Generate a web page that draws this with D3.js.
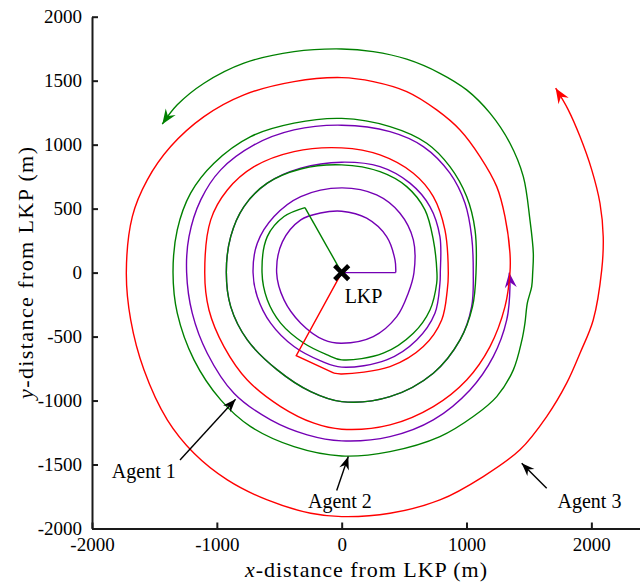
<!DOCTYPE html>
<html><head><meta charset="utf-8">
<script src="https://cdn.jsdelivr.net/npm/d3@7"></script>
<style>
body{margin:0;background:#fff}
svg{display:block}
svg text{font-family:'Liberation Serif','Times New Roman',serif !important;fill:#000}
</style>
</head><body><svg id="chart" width="640" height="588"></svg>
<script>
// ---- data (metres from LKP) ----
const xTicks = [-2000, -1000, 0, 1000, 2000];
const yTicks = [-2000, -1500, -1000, -500, 0, 500, 1000, 1500, 2000];
const xDomain = [-2000, 2400];
const yDomain = [-2000, 2000];

const agentNames = ["Agent 1", "Agent 2", "Agent 3"];

const agent1Leg = [[0,0],[433,0]];
const agent1Path = [[433,0],[427,99],[360,281],[200,425],[0,480],[-170,466],[-328,412],[-475,240],[-521,0],[-462,-213],[-328,-395],[-142,-526],[0,-552],[253,-500],[441,-344],[533,-161],[579,0],[574,256],[467,464],[280,607],[0,662],[-328,594],[-542,438],[-676,230],[-710,0],[-676,-188],[-569,-395],[-382,-578],[-168,-690],[0,-739],[360,-682],[601,-526],[747,-317],[787,-83],[790,0],[787,281],[707,516],[547,699],[307,828],[0,863],[-328,816],[-596,699],[-783,516],[-889,281],[-924,0],[-889,-266],[-756,-526],[-516,-760],[-248,-930],[0,-1008],[387,-969],[734,-786],[948,-526],[1041,-266],[1054,0],[1041,281],[988,542],[867,777],[654,985],[387,1102],[0,1152],[-382,1115],[-702,998],[-969,803],[-1129,568],[-1223,281],[-1242,0],[-1197,-317],[-1077,-630],[-863,-943],[-569,-1151],[-276,-1268],[0,-1315],[387,-1282],[734,-1151],[1028,-917],[1214,-657],[1322,-370],[1348,-109],[1342,0]];

const agent2Leg = [[0,0],[-294,508]];
const agent2Path = [[-294,508],[-462,438],[-596,281],[-638,0],[-596,-213],[-489,-395],[-302,-552],[-115,-643],[0,-682],[333,-630],[574,-474],[707,-292],[761,-83],[763,0],[734,256],[667,490],[521,672],[307,789],[0,842],[-328,810],[-596,699],[-783,516],[-889,281],[-924,0],[-889,-266],[-756,-526],[-516,-760],[-248,-930],[0,-1008],[387,-969],[734,-786],[948,-526],[1048,-266],[1076,0],[1068,334],[1001,594],[867,828],[681,1011],[387,1141],[0,1205],[-382,1168],[-729,1063],[-1023,855],[-1210,621],[-1317,334],[-1351,0],[-1317,-317],[-1183,-682],[-969,-995],[-729,-1204],[-382,-1360],[0,-1433],[387,-1399],[787,-1282],[1054,-1125],[1242,-969],[1375,-760],[1444,-526],[1468,-395],[1487,-239],[1522,-109],[1530,0],[1535,152],[1508,412],[1455,750],[1348,1011],[1188,1246],[1001,1428],[787,1558],[521,1668],[253,1727],[0,1748],[-382,1727],[-783,1637],[-1103,1480],[-1317,1311],[-1437,1160]];

const agent3Leg = [[0,0],[-364,-649],[-62,-786]];
const agent3Path = [[-62,-786],[0,-792],[387,-735],[654,-578],[801,-370],[846,-135],[854,0],[827,334],[734,594],[574,777],[307,920],[0,975],[-382,946],[-702,828],[-916,646],[-1049,412],[-1097,0],[-1063,-292],[-943,-578],[-756,-839],[-489,-1047],[-222,-1177],[0,-1224],[387,-1190],[734,-1047],[1001,-839],[1188,-578],[1308,-266],[1348,0],[1348,152],[1308,438],[1242,672],[1108,907],[948,1115],[761,1272],[521,1415],[253,1493],[0,1524],[-382,1493],[-783,1389],[-1103,1219],[-1370,985],[-1557,725],[-1677,438],[-1725,0],[-1690,-370],[-1584,-760],[-1397,-1151],[-1183,-1412],[-916,-1620],[-596,-1777],[-248,-1881],[0,-1907],[387,-1881],[787,-1777],[1134,-1594],[1428,-1385],[1642,-1125],[1802,-864],[1909,-630],[2015,-370],[2083,21],[2095,281],[2069,542],[2003,803],[1909,1063],[1815,1272],[1714,1441]];

// annotation arrows: [tail, tip]
const agent1Pointer = [[-1295,-1464],[-850,-990]];
const agent2Pointer = [[-40,-1703],[53,-1438]];
const agent3Pointer = [[1642,-1685],[1442,-1490]];
// label anchor points
const agentLabelPos = [[-1585,-1607],[-14,-1841],[1985,-1841]];
const lkpLabelPos = [175,-234];
const lkpPoint = [0,0];

// ---- drawing ----
const SERIF = "'Liberation Serif','Times New Roman',serif";
const svg = d3.select("#chart");
const x = d3.scaleLinear().domain(xDomain).range([92, 641.3]);
const y = d3.scaleLinear().domain(yDomain).range([528.5, 16.7]);

const colors = ["#7400b4", "#008000", "#ff0000"];

const defs = svg.append("defs");
function addMarker(id, color, len, hw, notch) {
  defs.append("marker")
    .attr("id", id)
    .attr("markerUnits", "userSpaceOnUse")
    .attr("viewBox", "-20 -10 22 20")
    .attr("markerWidth", 22).attr("markerHeight", 20)
    .attr("refX", 0).attr("refY", 0)
    .attr("orient", "auto")
    .append("path")
    .attr("d", `M0,0 L${-len},${-hw} L${-notch},0 L${-len},${hw} Z`)
    .attr("fill", color).attr("stroke", "none");
}
addMarker("ah0", colors[0], 15, 6, 10);
addMarker("ah1", colors[1], 15, 6, 10);
addMarker("ah2", colors[2], 15, 6, 10);
addMarker("ahk", "#000", 13, 5, 9);

// axes
const fmt = d => String(d);
const gx = svg.append("g").attr("transform", `translate(0,${y(-2000)})`)
  .call(d3.axisBottom(x).tickValues(xTicks).tickFormat(fmt).tickSizeInner(-6).tickSizeOuter(0).tickPadding(9));
const gy = svg.append("g").attr("transform", `translate(${x(-2000)},0)`)
  .call(d3.axisLeft(y).tickValues(yTicks).tickFormat(fmt).tickSizeInner(-6).tickSizeOuter(0).tickPadding(10));
[gx, gy].forEach(g => {
  g.attr("font-family", null).attr("font-size", null);
  g.select(".domain").attr("stroke", "#1a1a1a").attr("stroke-width", 2);
  g.selectAll(".tick line").attr("stroke", "#1a1a1a").attr("stroke-width", 2);
  g.selectAll(".tick text").style("font-family", SERIF).style("font-size", "19px").attr("fill", "#000");
});

// trajectories
const curve = d3.line().x(d => x(d[0])).y(d => y(d[1])).curve(d3.curveCatmullRom.alpha(0.5));
const straight = d3.line().x(d => x(d[0])).y(d => y(d[1]));
const legs = [agent1Leg, agent2Leg, agent3Leg];
const paths = [agent1Path, agent2Path, agent3Path];
const plot = svg.append("g");
[0, 1, 2].forEach(i => {
  plot.append("path").attr("d", straight(legs[i]))
    .attr("fill", "none").attr("stroke", colors[i]).attr("stroke-width", 1.4).attr("stroke-linejoin", "miter");
  plot.append("path").attr("d", curve(paths[i]))
    .attr("fill", "none").attr("stroke", colors[i]).attr("stroke-width", 1.4)
    .attr("marker-end", `url(#ah${i})`);
});

// LKP marker
svg.append("path")
  .attr("transform", `translate(${x(lkpPoint[0])},${y(lkpPoint[1])})`)
  .attr("d", "M-7,-7L7,7M-7,7L7,-7")
  .attr("stroke", "#000").attr("stroke-width", 4.5).attr("fill", "none");
svg.append("text").attr("x", x(lkpLabelPos[0])).attr("y", y(lkpLabelPos[1]))
  .attr("text-anchor", "middle").style("font-family", SERIF).style("font-size", "20px").text("LKP");

// annotations
[agent1Pointer, agent2Pointer, agent3Pointer].forEach(p => {
  svg.append("path").attr("d", straight(p))
    .attr("stroke", "#000").attr("stroke-width", 1.4).attr("fill", "none")
    .attr("marker-end", "url(#ahk)");
});
agentNames.forEach((n, i) => {
  svg.append("text").attr("x", x(agentLabelPos[i][0])).attr("y", y(agentLabelPos[i][1]))
    .attr("text-anchor", "middle").style("font-family", SERIF).style("font-size", "20px").text(n);
});

// axis titles
const xt = svg.append("text").attr("x", 366).attr("y", 577).attr("text-anchor", "middle")
  .style("font-family", SERIF).style("font-size", "22px").attr("textLength", 242).attr("lengthAdjust", "spacing");
xt.append("tspan").attr("font-style", "italic").text("x");
xt.append("tspan").text("-distance from LKP (m)");
const yt = svg.append("text").attr("transform", "translate(33,273) rotate(-90)").attr("text-anchor", "middle")
  .style("font-family", SERIF).style("font-size", "22px").attr("textLength", 252).attr("lengthAdjust", "spacing");
yt.append("tspan").attr("font-style", "italic").text("y");
yt.append("tspan").text("-distance from LKP (m)");
</script>
</body></html>
